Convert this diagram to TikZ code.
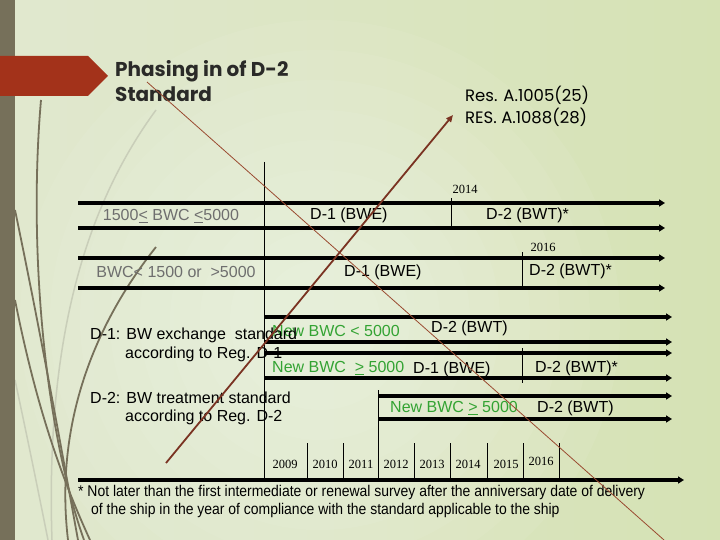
\documentclass[tikz,border=0pt]{standalone}
\usepackage{fontspec}
\setmainfont{Liberation Sans}
\newfontfamily\gothic{Poppins}
\newfontfamily\timesf{Liberation Serif}
\newfontfamily\narrowf[FakeStretch=0.9]{Liberation Sans}
\usetikzlibrary{arrows.meta}
\definecolor{bgL}{HTML}{E1E8CF}
\definecolor{bgM}{HTML}{F3F5EA}
\definecolor{bgR}{HTML}{D5E2B4}
\definecolor{barC}{HTML}{76705A}
\definecolor{chevC}{HTML}{A3321A}
\definecolor{titleC}{HTML}{2A2A28}
\definecolor{brownA}{HTML}{7A3322}
\definecolor{brownB}{HTML}{9A4A30}
\definecolor{greenT}{HTML}{33A333}
\definecolor{grayT}{HTML}{6E6E6E}
\definecolor{lightC}{HTML}{C9CEB9}
\tikzset{
  rowline/.style={line width=3.2pt, -{Triangle[length=6pt,width=7pt]}},
  tick/.style={line width=0.9pt},
  lbl/.style={font=\fontsize{16}{18}\selectfont, inner sep=0pt, anchor=west},
  glbl/.style={lbl, text=greenT},
  graylbl/.style={lbl, text=grayT, anchor=center},
  year/.style={font=\timesf\fontsize{12.5}{14}\selectfont, inner sep=0pt, anchor=center},
  deco/.style={barC, line width=1.8pt},
  decol/.style={lightC, line width=1.5pt},
}
\begin{document}
\begin{tikzpicture}[x=1pt, y=-1pt]
\useasboundingbox (0,0) rectangle (720,540);
% background
\shade[left color=bgL, middle color=bgM, right color=bgR] (0,0) rectangle (720,540);
\foreach \r in {60,90,...,300} {\fill[white, opacity=0.06] (320,320) circle (\r);}
% decorative curves
\draw[decol] (156,110) .. controls (90,200) and (45,330) .. (52,540);
\draw[decol] (15,380) .. controls (30,450) and (40,500) .. (48,540);
\draw[deco] (41,100) .. controls (28,250) and (45,430) .. (84,540);
\draw[deco] (15,210) .. controls (40,330) and (58,430) .. (78,540);
\draw[deco] (156,247) .. controls (90,330) and (55,430) .. (68,540);
\draw[deco] (15,300) .. controls (35,400) and (58,470) .. (90,540);
% left bar and chevron
\fill[barC] (0,0) rectangle (15,540);
\fill[chevC] (0,56) -- (88,56) -- (108,76) -- (88,96) -- (0,96) -- cycle;
% title
\node[font=\gothic\bfseries\fontsize{20}{23}\selectfont, text=titleC, anchor=base west, inner sep=0pt] (t1) at (115,77) {Phasing in of D-2};
\node[font=\gothic\bfseries\fontsize{20}{23}\selectfont, text=titleC, anchor=base west, inner sep=0pt] (t2) at (115,102) {Standard};
\node[font=\gothic\fontsize{16.5}{19}\selectfont, anchor=base west, inner sep=0pt] (r1) at (465,102) {Res. A.1005(25)};
\node[font=\gothic\fontsize{16.5}{19}\selectfont, anchor=base west, inner sep=0pt] (r2) at (465,124) {RES. A.1088(28)};
% coordinates
\coordinate (vTop) at (264,162); \coordinate (vBot) at (264,480);
\coordinate (a1s) at (78,203); \coordinate (a1e) at (665,203);
\coordinate (b1s) at (78,228); \coordinate (b1e) at (665,228);
\coordinate (a2s) at (78,258); \coordinate (a2e) at (665,258);
\coordinate (b2s) at (78,288); \coordinate (b2e) at (665,288);
\coordinate (a3s) at (264,317); \coordinate (a3e) at (672,317);
\coordinate (b3s) at (264,342); \coordinate (b3e) at (672,342);
\coordinate (a4s) at (264,353); \coordinate (a4e) at (672,353);
\coordinate (b4s) at (264,378); \coordinate (b4e) at (672,378);
\coordinate (a5s) at (378,396); \coordinate (a5e) at (672,396);
\coordinate (b5s) at (378,419); \coordinate (b5e) at (672,419);
\coordinate (axs) at (78,480); \coordinate (axe) at (684,480);
% verticals
\draw[tick] (vTop) -- (vBot);
\draw[tick] (451,198) -- (451,228);
\draw[tick] (522,252) -- (522,288);
\draw[tick] (522,348) -- (522,383);
\draw[tick] (378,390) -- (378,480);
\foreach \x in {307,343,414,450,487,523,559} {\draw[tick] (\x,443) -- (\x,480);}
% row lines
\foreach \s/\e in {a1s/a1e,b1s/b1e,a2s/a2e,b2s/b2e,a3s/a3e,b3s/b3e,a4s/a4e,b4s/b4e,a5s/a5e,b5s/b5e,axs/axe}
  {\draw[rowline] (\s) -- (\e);}
% row texts
\node[year] (y2014) at (465,189) {2014};
\node[year] (y2016) at (543,247) {2016};
\node[graylbl] (g1) at (171,216) {1500\underline{<} BWC \underline{<}5000};
\node[lbl] (d11) at (310,215) {D-1 (BWE)};
\node[lbl] (d21) at (486,215) {D-2 (BWT)*};
\node[graylbl] (g2) at (176,272) {BWC< 1500 or \ >5000};
\node[lbl] (d12) at (344,272) {D-1 (BWE)};
\node[lbl] (d22) at (529,271) {D-2 (BWT)*};
\node[glbl] (n3) at (272,331) {New BWC < 5000};
\node[lbl] (d23) at (431,328) {D-2 (BWT)};
\node[glbl] (n4) at (272,368) {New BWC \ \underline{>} 5000};
\node[lbl] (d14) at (413,369) {D-1 (BWE)};
\node[lbl] (d24) at (535,368) {D-2 (BWT)*};
\node[glbl] (n5) at (390,408) {New BWC \underline{>} 5000};
\node[lbl] (d25) at (537,408) {D-2 (BWT)};
% legend
\node[lbl] (l1) at (90,335) {D-1: BW exchange \ standard};
\node[lbl] (l2) at (125,354) {according to Reg. D-1};
\node[lbl] (l3) at (90,398) {D-2: BW treatment standard};
\node[lbl] (l4) at (125,417) {according to Reg. D-2};
% years
\node[year] at (285,464) {2009};
\node[year] at (325,464) {2010};
\node[year] at (361,464) {2011};
\node[year] at (396,464) {2012};
\node[year] at (432,464) {2013};
\node[year] at (468,464) {2014};
\node[year] at (506,464) {2015};
\node[year] at (541,461) {2016};
% footnote
\node[font=\narrowf\fontsize{15.5}{18}\selectfont, anchor=west, inner sep=0pt] (f1) at (78,492) {* Not later than the first intermediate or renewal survey after the anniversary date of delivery};
\node[font=\narrowf\fontsize{15.5}{18}\selectfont, anchor=west, inner sep=0pt] (f2) at (91,510) {of the ship in the year of compliance with the standard applicable to the ship};
% brown lines
\coordinate (thS) at (147,82); \coordinate (thE) at (664,540);
\draw[brownB, line width=0.8pt] (thS) -- (thE);
\coordinate (arS) at (166,463); \coordinate (arE) at (453,115);
\draw[brownA, line width=1.8pt, -{Triangle[length=7pt,width=6pt]}] (arS) -- (arE);
\end{tikzpicture}
\end{document}
